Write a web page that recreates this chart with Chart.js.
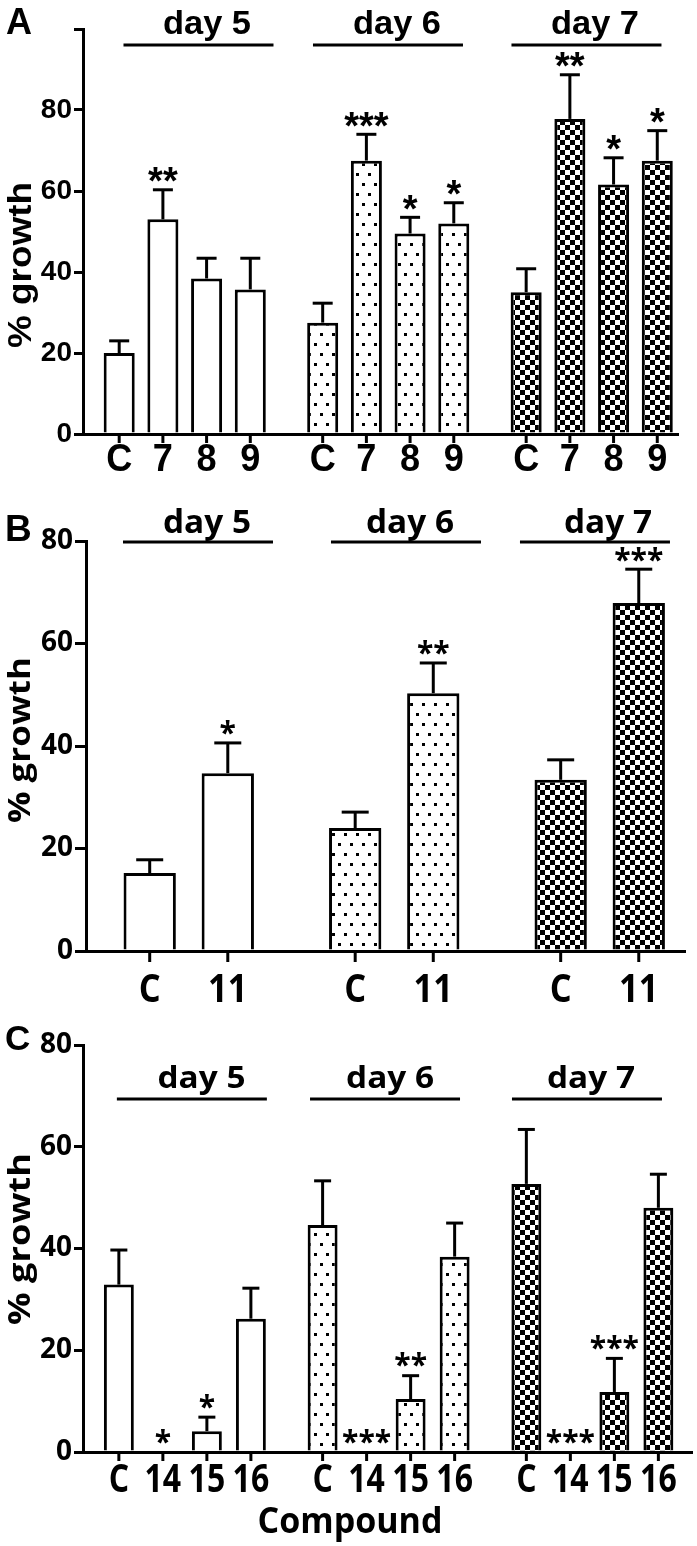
<!DOCTYPE html>
<html>
<head>
<meta charset="utf-8">
<title>% growth by compound and day</title>
<script src="https://cdn.jsdelivr.net/npm/chart.js@4.4.0/dist/chart.umd.min.js"></script>
<style>
  html, body { margin: 0; padding: 0; background: #fff; }
  #page { position: relative; width: 697px; height: 1546px; background: #fff; overflow: hidden; }
  canvas { position: absolute; left: 0; }
</style>
</head>
<body>
<div id="page">
  <canvas id="panel-a" width="697" height="480" style="top:0"></canvas>
  <canvas id="panel-b" width="697" height="530" style="top:480px"></canvas>
  <canvas id="panel-c" width="697" height="536" style="top:1010px"></canvas>
</div>
<script>
const DAYS = ['day 5', 'day 6', 'day 7'];
const DAY_INDEX = [0, 1, 2];

// panel A: mean % growth and SEM for each compound, day 5..7
const A_COMPOUNDS = ['C', '7', '8', '9'];
const A_C = [20.0, 27.5, 35.0];
const A_7 = [53.0, 67.5, 77.8];
const A_8 = [38.4, 49.5, 61.6];
const A_9 = [35.7, 52.0, 67.5];
const A_C_SEM = [3.0, 4.8, 5.8];
const A_7_SEM = [7.3, 6.5, 10.9];
const A_8_SEM = [5.0, 4.0, 6.6];
const A_9_SEM = [7.7, 5.1, 7.4];
const A_STARS = [['', '', ''], ['**', '***', '**'], ['', '*', '*'], ['', '*', '*']];
const A_Y_TICKS = [0, 20, 40, 60, 80, 100];

// panel B
const B_COMPOUNDS = ['C', '11'];
const B_C = [15.2, 24.0, 33.4];
const B_11 = [34.7, 50.3, 67.9];
const B_C_SEM = [2.6, 3.1, 3.9];
const B_11_SEM = [5.9, 5.9, 6.6];
const B_STARS = [['', '', ''], ['*', '**', '***']];
const B_Y_TICKS = [0, 20, 40, 60, 80];

// panel C
const C_COMPOUNDS = ['C', '14', '15', '16'];
const C_C = [32.9, 44.6, 52.7];
const C_14 = [0, 0, 0];
const C_15 = [4.1, 10.4, 11.8];
const C_16 = [26.2, 38.4, 48.0];
const C_C_SEM = [6.8, 8.7, 10.7];
const C_14_SEM = [0, 0, 0];
const C_15_SEM = [2.75, 4.6, 6.6];
const C_16_SEM = [6.0, 6.6, 6.6];
const C_STARS = [['', '', ''], ['*', '***', '***'], ['*', '**', '***'], ['', '', '']];
const C_Y_TICKS = [0, 20, 40, 60, 80];

function makePattern(w, h, paint) {
  const tile = document.createElement('canvas');
  tile.width = w;
  tile.height = h;
  const g = tile.getContext('2d');
  g.fillStyle = '#fff';
  g.fillRect(0, 0, w, h);
  g.fillStyle = '#000';
  paint(g);
  return g.createPattern(tile, 'repeat');
}

const DOTS = makePattern(12, 20, (g) => {
  g.fillRect(2, 3, 3, 3);
  g.fillRect(8, 13, 3, 3);
});
const CHECKS = makePattern(10, 10, (g) => {
  g.fillRect(0, 0, 5, 5);
  g.fillRect(5, 5, 5, 5);
});
const DAY_FILLS = ['#ffffff', DOTS, CHECKS];

function drawText(ctx, str, x, y, o) {
  ctx.save();
  ctx.font = o.font;
  ctx.fillStyle = '#000';
  ctx.textAlign = o.align || 'center';
  ctx.textBaseline = 'alphabetic';
  ctx.translate(x, y);
  if (o.rotate) ctx.rotate(o.rotate);
  const sx = o.width ? o.width / ctx.measureText(str).width : (o.sx || 1);
  ctx.scale(sx, 1);
  ctx.fillText(str, 0, 0);
  ctx.restore();
}

function stroke(ctx, x1, y1, x2, y2) {
  ctx.beginPath();
  ctx.moveTo(x1, y1);
  ctx.lineTo(x2, y2);
  ctx.stroke();
}

function decorPlugin(p) {
  return {
    id: 'decor',
    afterDraw(chart) {
      const { ctx } = chart;
      const xs = chart.scales.x;
      const ys = chart.scales.y;
      const base = ys.getPixelForValue(0);
      ctx.save();
      ctx.strokeStyle = '#000';
      ctx.lineWidth = 3;

      // day headers
      DAY_INDEX.forEach((d, i) => {
        const cx = xs.getPixelForValue(d);
        const lc = cx + p.lineShift[i];
        stroke(ctx, lc - p.lineHalf, p.lineY, lc + p.lineHalf, p.lineY);
        drawText(ctx, DAYS[i], cx + p.textShift[i], p.dayBaseline, { font: p.dayFont, width: p.dayWidth });
      });

      // ticks, compound labels, error bars, significance stars
      chart.data.datasets.forEach((ds, k) => {
        chart.getDatasetMeta(k).data.forEach((bar, i) => {
          const bx = bar.x;
          stroke(ctx, bx, base, bx, base + p.tickLen);
          drawText(ctx, ds.label, bx, p.labelBaseline, { font: p.labelFont, sx: p.labelScale });
          const ty = ys.getPixelForValue(ds.data[i] + ds.sem[i]);
          if (ds.sem[i] > 0) {
            stroke(ctx, bx, bar.y, bx, ty);
            stroke(ctx, bx - p.capWidth / 2, ty, bx + p.capWidth / 2, ty);
          }
          const s = ds.stars[i];
          if (s) {
            ctx.font = p.starFont;
            const m = ctx.measureText(s);
            const by = ty - 1.5 - p.starGap - m.actualBoundingBoxDescent;
            drawText(ctx, s, bx, by, { font: p.starFont });
          }
        });
      });

      drawText(ctx, p.letter, p.letterX, p.letterBaseline, { font: p.letterFont, align: 'left' });
      drawText(ctx, '% growth', p.yTitleX, p.yTitleY, {
        font: p.yTitleFont, width: p.yTitleWidth, rotate: -Math.PI / 2,
      });
      if (p.xTitle) {
        drawText(ctx, p.xTitle, p.xTitleX, p.xTitleBaseline, { font: p.xTitleFont, width: p.xTitleWidth });
      }
      ctx.restore();
    },
  };
}

function buildPanel(p) {
  const datasets = p.compounds.map((name, k) => ({
    label: name,
    data: p.means[k],
    sem: p.sems[k],
    stars: p.stars[k],
    backgroundColor: DAY_FILLS,
    borderColor: '#000',
    borderWidth: 3,
    categoryPercentage: p.catPct,
    barPercentage: p.barPct,
  }));

  return new Chart(document.getElementById(p.canvas), {
    type: 'bar',
    data: { labels: DAY_INDEX, datasets },
    options: {
      responsive: false,
      animation: false,
      devicePixelRatio: 1,
      layout: { padding: { top: p.padTop, right: p.padRight, left: 0, bottom: 0 } },
      plugins: { legend: { display: false }, tooltip: { enabled: false } },
      scales: {
        x: {
          type: 'linear',
          min: -0.5,
          max: p.xMax,
          offset: false,
          z: 1,
          afterBuildTicks: (s) => { s.ticks = DAY_INDEX.map((v) => ({ value: v })); },
          afterFit: (s) => { s.height = p.xHeight; },
          ticks: { display: false },
          grid: { display: false },
          border: { display: true, color: '#000', width: 3 },
        },
        y: {
          min: 0,
          max: p.yTicks[p.yTicks.length - 1],
          afterBuildTicks: (s) => { s.ticks = p.yTicks.map((v) => ({ value: v })); },
          afterFit: (s) => { s.width = p.yWidth; },
          ticks: {
            color: '#000',
            padding: 2,
            font: { family: p.tickFamily, size: p.tickSize, weight: 'bold' },
            callback: (v) => (v > 80 ? '' : String(v)),
          },
          grid: { drawOnChartArea: false, drawTicks: true, tickLength: p.tickLen, color: '#000', lineWidth: 3 },
          border: { display: true, color: '#000', width: 3 },
        },
      },
    },
    plugins: [decorPlugin(p)],
  });
}

const ARIAL = '"Liberation Sans", Arial, sans-serif';
const MYRIAD = '"Open Sans", "Noto Sans", sans-serif';

buildPanel({
  canvas: 'panel-a',
  compounds: A_COMPOUNDS,
  means: [A_C, A_7, A_8, A_9],
  sems: [A_C_SEM, A_7_SEM, A_8_SEM, A_9_SEM],
  stars: A_STARS,
  yTicks: A_Y_TICKS,
  xMax: 2.424, padTop: 29, padRight: 19, yWidth: 83, xHeight: 46,
  catPct: 0.859, barPct: 0.71, tickLen: 9, capWidth: 20,
  tickFamily: ARIAL, tickSize: 28,
  lineY: 45, lineHalf: 75, lineShift: [13.75, -0.25, -5.25], textShift: [22.25, 8.75, 3.25],
  dayBaseline: 34, dayFont: 'bold 33px ' + ARIAL, dayWidth: 88,
  labelFont: 'bold 38px ' + ARIAL, labelScale: 0.95, labelBaseline: 471,
  starFont: 'bold 38px ' + ARIAL, starGap: 6,
  letter: 'A', letterFont: 'bold 36px ' + ARIAL, letterX: 6, letterBaseline: 34,
  yTitleFont: 'bold 34px ' + ARIAL, yTitleX: 31, yTitleY: 265, yTitleWidth: 166,
});

buildPanel({
  canvas: 'panel-b',
  compounds: B_COMPOUNDS,
  means: [B_C, B_11],
  sems: [B_C_SEM, B_11_SEM],
  stars: B_STARS,
  yTicks: B_Y_TICKS,
  xMax: 2.415, padTop: 61, padRight: 12, yWidth: 86, xHeight: 59,
  catPct: 0.76, barPct: 0.67, tickLen: 11, capWidth: 27,
  tickFamily: MYRIAD, tickSize: 28,
  lineY: 62, lineHalf: 75, lineShift: [9.25, 11.75, -4.75], textShift: [18.25, 15.75, 8.25],
  dayBaseline: 53, dayFont: 'bold 32px ' + MYRIAD, dayWidth: 88,
  labelFont: 'bold 40px ' + MYRIAD, labelScale: 0.86, labelBaseline: 522,
  starFont: 'bold 30px ' + MYRIAD, starGap: 6,
  letter: 'B', letterFont: 'bold 37px ' + ARIAL, letterX: 5, letterBaseline: 61,
  yTitleFont: 'bold 31px ' + MYRIAD, yTitleX: 30, yTitleY: 260, yTitleWidth: 166,
});

buildPanel({
  canvas: 'panel-c',
  compounds: C_COMPOUNDS,
  means: [C_C, C_14, C_15, C_16],
  sems: [C_C_SEM, C_14_SEM, C_15_SEM, C_16_SEM],
  stars: C_STARS,
  yTicks: C_Y_TICKS,
  xMax: 2.489, padTop: 35, padRight: 5, yWidth: 83, xHeight: 94,
  catPct: 0.864, barPct: 0.68, tickLen: 9, capWidth: 17,
  tickFamily: MYRIAD, tickSize: 28,
  lineY: 89, lineHalf: 75, lineShift: [7, -3.6, -5.4], textShift: [16.6, 1.4, -1.4],
  dayBaseline: 78, dayFont: 'bold 31px ' + MYRIAD, dayWidth: 88,
  labelFont: 'bold 40px ' + MYRIAD, labelScale: 0.8, labelBaseline: 482,
  starFont: 'bold 30px ' + MYRIAD, starGap: 7,
  letter: 'C', letterFont: 'bold 35px ' + ARIAL, letterX: 5, letterBaseline: 40,
  yTitleFont: 'bold 31px ' + MYRIAD, yTitleX: 30, yTitleY: 229, yTitleWidth: 172,
  xTitle: 'Compound', xTitleFont: 'bold 36px ' + MYRIAD, xTitleX: 350, xTitleBaseline: 523, xTitleWidth: 185,
});
</script>
</body>
</html>
